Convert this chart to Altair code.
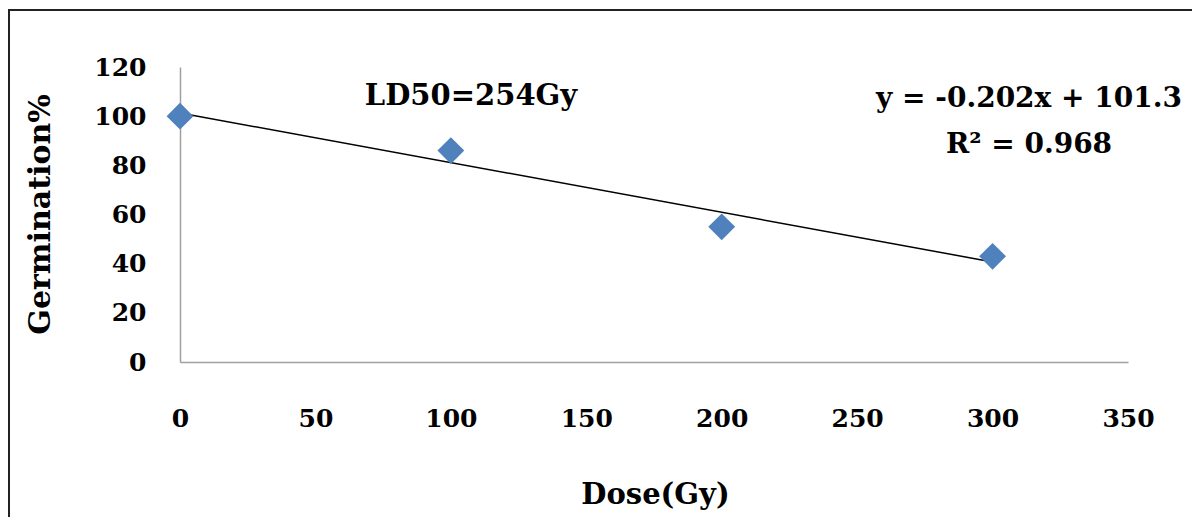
import altair as alt
import pandas as pd

dose = [0, 100, 200, 300]
germination = [100, 86, 55, 43]
x_ticks = [0, 50, 100, 150, 200, 250, 300, 350]
y_ticks = [0, 20, 40, 60, 80, 100, 120]
ld50_label = "LD50=254Gy"
eq_line1 = "y = -0.202x + 101.3"
eq_line2 = "R² = 0.968"

df = pd.DataFrame({"dose": dose, "germ": germination})

FONT = "DejaVu Serif"

xs = alt.Scale(domain=[0, 350], nice=False, zero=True)
ys = alt.Scale(domain=[0, 120], nice=False)

x_axis = alt.Axis(values=x_ticks, title="Dose(Gy)", grid=False, ticks=False,
                  domainColor="#a0a0a0", domainWidth=1.5,
                  labelFont=FONT, labelFontSize=25, labelFontWeight="bold", labelColor="black",
                  labelPadding=44, labelFlush=False,
                  titleFont=FONT, titleFontSize=29, titleFontWeight="bold", titleColor="black",
                  titleX=475, titleY=141, titleBaseline="alphabetic", titleAlign="center")
y_axis = alt.Axis(values=y_ticks, title="Germination%", grid=False, ticks=False,
                  domainColor="#a0a0a0", domainWidth=1.5,
                  labelFont=FONT, labelFontSize=25, labelFontWeight="bold", labelColor="black",
                  labelPadding=34, labelFlush=False,
                  titleFont=FONT, titleFontSize=30, titleFontWeight="bold", titleColor="black",
                  titleX=-140, titleY=147, titleAngle=-90, titleAlign="center", titleBaseline="middle")

base = alt.Chart(df)

trend = base.transform_regression("dose", "germ", method="linear", extent=[0, 300]).mark_line(
    color="black", strokeWidth=1.5
).encode(x=alt.X("dose:Q", scale=xs, axis=x_axis), y=alt.Y("germ:Q", scale=ys, axis=y_axis))

pts = base.mark_point(shape="diamond", filled=True, color="#4f81bd", size=720, opacity=1).encode(
    x=alt.X("dose:Q", scale=xs), y=alt.Y("germ:Q", scale=ys)
)

ann = pd.DataFrame({"t": [ld50_label, eq_line1, eq_line2],
                    "px": [291, 849, 849], "py": [38, 40, 86],
                    "fs": [29, 28, 28]})
ann_marks = alt.Chart(ann).mark_text(font=FONT, fontWeight="bold", color="black",
                                     align="center", baseline="alphabetic").encode(
    text="t:N", x=alt.X("px:Q", scale=None), y=alt.Y("py:Q", scale=None),
    size=alt.Size("fs:Q", scale=None, legend=None)
)

border_top = alt.Chart(df).mark_rule(color="#222", strokeWidth=2).encode(
    x=alt.value(-172), x2=alt.value(1020), y=alt.value(-57)
)
border_left = alt.Chart(df).mark_rule(color="#222", strokeWidth=2).encode(
    x=alt.value(-171), y=alt.value(-58), y2=alt.value(460)
)

chart = alt.layer(trend, pts, ann_marks, border_top, border_left).properties(
    width=948, height=295,
    autosize=alt.AutoSizeParams(type="none"),
    padding={"left": 172, "top": 59, "right": 64, "bottom": 155},
).configure_view(stroke=None)

chart.save("out.html", embed_options={"renderer": "svg", "actions": False})
